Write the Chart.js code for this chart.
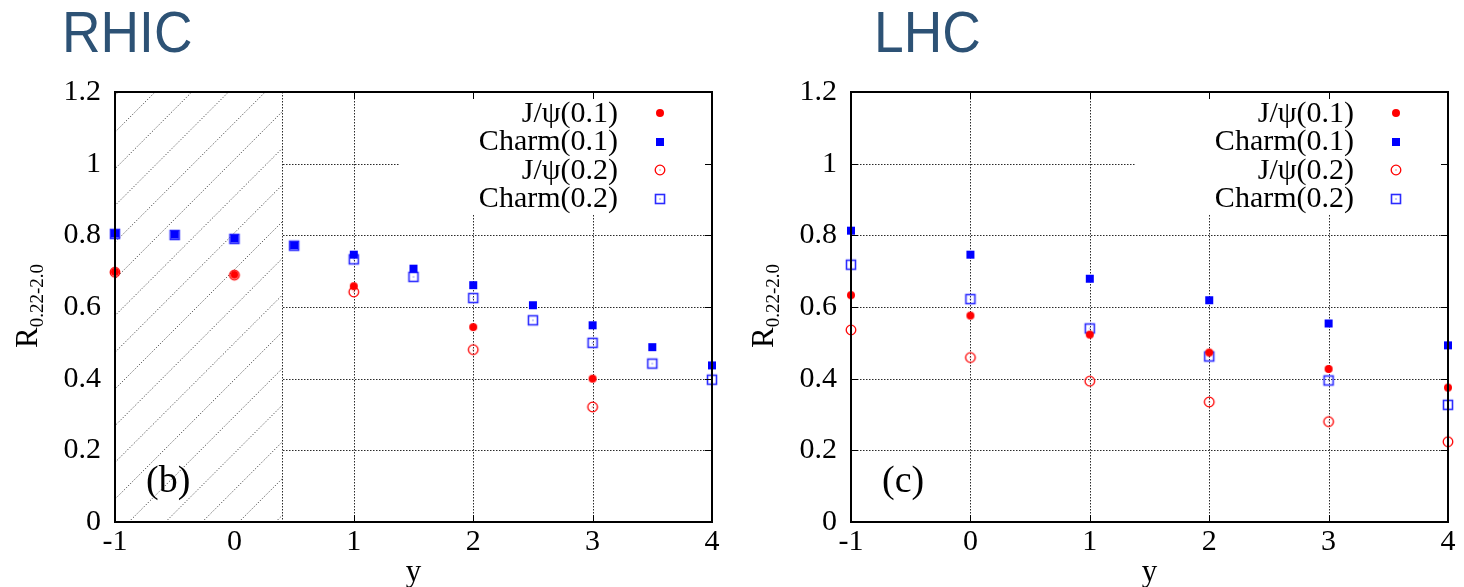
<!DOCTYPE html>
<html>
<head>
<meta charset="utf-8">
<title>R(0.22-2.0) vs rapidity: RHIC and LHC</title>
<script src="https://cdn.jsdelivr.net/npm/chart.js@4.4.1/dist/chart.umd.min.js"></script>
<style>
  html, body { margin: 0; padding: 0; background: #fff; width: 1464px; height: 587px; overflow: hidden; }
  canvas { position: absolute; top: 0; }
  .facility {
    position: absolute; top: 3px; margin: 0;
    font-family: "Liberation Sans", Arial, sans-serif; font-size: 58px; line-height: 58px;
    color: #2d5275; transform: scaleX(0.92); transform-origin: left top; white-space: nowrap;
  }
</style>
</head>
<body>
<div class="facility" style="left:62px">RHIC</div>
<div class="facility" style="left:874px">LHC</div>
<canvas id="rhic" width="732" height="587" style="left:0"></canvas>
<canvas id="lhc" width="732" height="587" style="left:732px"></canvas>

<script>
// ---- axes ----
const X_TICKS = [-1, 0, 1, 2, 3, 4];
const X_TICK_LABELS = ['-1', '0', '1', '2', '3', '4'];
const Y_TICKS = [0, 0.2, 0.4, 0.6, 0.8, 1.0, 1.2];
const Y_TICK_LABELS = ['0', '0.2', '0.4', '0.6', '0.8', '1', '1.2'];
const X_TITLE = 'y';
const Y_TITLE_MAIN = 'R';
const Y_TITLE_SUB = '0.22-2.0';

// ---- series names (legend order) ----
const SERIES_LABELS = ['J/\u03c8(0.1)', 'Charm(0.1)', 'J/\u03c8(0.2)', 'Charm(0.2)'];

// ---- RHIC ----
const RHIC_JPSI_Y = [-1, 0, 1, 2, 3];
const RHIC_JPSI_01 = [0.698, 0.690, 0.658, 0.544, 0.400];
const RHIC_JPSI_02 = [0.697, 0.689, 0.642, 0.481, 0.321];
const RHIC_CHARM_Y = [-1, -0.5, 0, 0.5, 1, 1.5, 2, 2.5, 3, 3.5, 4];
const RHIC_CHARM_01 = [0.805, 0.802, 0.791, 0.772, 0.746, 0.707, 0.661, 0.605, 0.549, 0.488, 0.437];
const RHIC_CHARM_02 = [0.804, 0.801, 0.790, 0.771, 0.733, 0.684, 0.625, 0.563, 0.500, 0.442, 0.397];
const RHIC_EXCLUDED_UPTO = 0.4;   // hatched rapidity range starts at the left edge
const RHIC_PANEL = '(b)';

// ---- LHC ----
const LHC_Y = [-1, 0, 1, 2, 3, 4];
const LHC_JPSI_01 = [0.633, 0.576, 0.523, 0.473, 0.427, 0.375];
const LHC_JPSI_02 = [0.536, 0.459, 0.393, 0.335, 0.280, 0.224];
const LHC_CHARM_01 = [0.813, 0.746, 0.679, 0.619, 0.554, 0.493];
const LHC_CHARM_02 = [0.718, 0.622, 0.540, 0.462, 0.395, 0.327];
const LHC_PANEL = '(c)';

// ---- styling ----
const SERIF = '"Liberation Serif", "Times New Roman", serif';
const RED = '#ff0000';
const BLUE = '#0000ff';
const BLUE_OPEN = '#2b2bff';
const GRID_COLOR = '#2a2a2a';
const HATCH_COLOR = '#4a4a4a';

function makeMarker(kind) {
  const c = document.createElement('canvas');
  c.width = 16; c.height = 16;
  const g = c.getContext('2d');
  const m = 8;
  if (kind === 'disc') {
    g.fillStyle = RED; g.beginPath(); g.arc(m, m, 4.0, 0, Math.PI * 2); g.fill();
  } else if (kind === 'square') {
    g.fillStyle = BLUE; g.fillRect(m - 4, m - 4, 8, 8);
  } else if (kind === 'ring') {
    g.strokeStyle = RED; g.lineWidth = 1.3;
    g.beginPath(); g.arc(m, m, 4.8, 0, Math.PI * 2); g.stroke();
    g.fillStyle = RED; g.fillRect(m - 0.5, m - 0.5, 1, 1);
  } else {
    g.strokeStyle = BLUE_OPEN; g.lineWidth = 1.6;
    g.strokeRect(m - 4.5, m - 4.5, 9, 9);
    g.fillStyle = BLUE_OPEN; g.fillRect(m - 0.5, m - 0.5, 1, 1);
  }
  return c;
}

function line(ctx, x1, y1, x2, y2) {
  ctx.beginPath(); ctx.moveTo(x1, y1); ctx.lineTo(x2, y2); ctx.stroke();
}

// Grid, hatched exclusion band, key backdrop, frame with inward ticks,
// key, panel tag and the subscripted y-axis title.
const decorPlugin = {
  id: 'decor',
  beforeDatasetsDraw(chart, args, opts) {
    const { ctx, chartArea: a, scales: { x, y } } = chart;
    ctx.save();
    ctx.lineWidth = 1;
    ctx.strokeStyle = GRID_COLOR;
    ctx.setLineDash([1.5, 1.5]);
    X_TICKS.slice(1, -1).forEach(v => {
      const px = Math.round(x.getPixelForValue(v)) + 0.5;
      line(ctx, px, a.top, px, a.bottom);
    });
    Y_TICKS.slice(1, -1).forEach(v => {
      const py = Math.round(y.getPixelForValue(v)) + 0.5;
      line(ctx, a.left, py, a.right, py);
    });

    // key backdrop hides the grid behind it
    ctx.fillStyle = '#fff';
    ctx.fillRect(a.right - 312, a.top + 1, 311, 121);

    if (opts.hatchTo != null) {
      const hx = Math.round(x.getPixelForValue(opts.hatchTo)) + 0.5;
      ctx.fillStyle = '#fff';
      ctx.fillRect(a.left, a.top, hx - a.left, a.bottom - a.top);
      ctx.save();
      ctx.beginPath(); ctx.rect(a.left, a.top, hx - a.left, a.bottom - a.top); ctx.clip();
      ctx.strokeStyle = HATCH_COLOR;
      ctx.setLineDash([1.2, 1.8]);
      const step = 36.7;
      const c0 = a.left + a.bottom + 13.8;
      let c = c0;
      while (c > a.left + a.top) c -= step;
      for (; c < hx + a.bottom + step; c += step) {
        line(ctx, c - a.bottom, a.bottom, c - a.top, a.top);
      }
      ctx.restore();
      ctx.strokeStyle = GRID_COLOR;
      ctx.setLineDash([1.5, 1.5]);
      line(ctx, hx, a.top, hx, a.bottom);
    }
    ctx.restore();
  },
  afterDatasetsDraw(chart, args, opts) {
    const { ctx, chartArea: a, scales: { x, y } } = chart;
    ctx.save();
    // inward ticks
    ctx.strokeStyle = '#000'; ctx.lineWidth = 1; ctx.setLineDash([]);
    const tl = 7;
    X_TICKS.slice(1, -1).forEach(v => {
      if (opts.hatchTo != null && v < opts.hatchTo) return;
      const px = Math.round(x.getPixelForValue(v)) + 0.5;
      line(ctx, px, a.top, px, a.top + tl);
      line(ctx, px, a.bottom, px, a.bottom - tl);
    });
    Y_TICKS.slice(1, -1).forEach(v => {
      const py = Math.round(y.getPixelForValue(v)) + 0.5;
      if (opts.hatchTo == null) line(ctx, a.left, py, a.left + tl, py);
      line(ctx, a.right, py, a.right - tl, py);
    });
    // frame
    ctx.lineWidth = 2;
    ctx.strokeRect(a.left, a.top, a.right - a.left, a.bottom - a.top);

    // key: text right-aligned, symbol on its right
    ctx.fillStyle = '#000';
    ctx.font = '30px ' + SERIF;
    ctx.textAlign = 'right';
    ctx.textBaseline = 'middle';
    chart.data.datasets.forEach((ds, i) => {
      const ry = a.top + 21 + i * 28.5;
      ctx.fillText(ds.label, a.right - 94, ry + 1);
      const img = ds.pointStyle;
      ctx.drawImage(img, Math.round(a.right - 52 - img.width / 2), Math.round(ry - img.height / 2));
    });

    // panel tag
    ctx.textAlign = 'left';
    ctx.textBaseline = 'alphabetic';
    ctx.font = '38px ' + SERIF;
    ctx.fillText(opts.panel, a.left + 31, a.bottom - 30);

    // y-axis title with subscript, rotated
    ctx.translate(a.left - 78, (a.top + a.bottom) / 2 - 1);
    ctx.rotate(-Math.PI / 2);
    ctx.font = '31px ' + SERIF;
    const wMain = ctx.measureText(Y_TITLE_MAIN).width;
    ctx.font = '19px ' + SERIF;
    const wSub = ctx.measureText(Y_TITLE_SUB).width;
    const x0 = -(wMain + wSub) / 2;
    ctx.font = '31px ' + SERIF;
    ctx.fillText(Y_TITLE_MAIN, x0, 0);
    ctx.font = '19px ' + SERIF;
    ctx.fillText(Y_TITLE_SUB, x0 + wMain, 6);
    ctx.restore();
  }
};

const MARKERS = [makeMarker('disc'), makeMarker('square'), makeMarker('ring'), makeMarker('box')];

function pairs(xs, ys) { return xs.map((v, i) => ({ x: v, y: ys[i] })); }

function buildChart(id, series, layout, decor) {
  const datasets = series.map((s, i) => ({
    label: SERIES_LABELS[i],
    data: pairs(s[0], s[1]),
    pointStyle: MARKERS[i],
    pointRadius: 5,
    pointHoverRadius: 5,
    showLine: false,
    clip: false
  }));
  const tickFont = { family: SERIF, size: 30 };
  return new Chart(document.getElementById(id), {
    type: 'scatter',
    data: { datasets },
    options: {
      responsive: false,
      devicePixelRatio: 1,
      animation: false,
      events: [],
      layout: { padding: { top: 92, right: layout.padRight, left: 0, bottom: 0 } },
      plugins: { legend: { display: false }, tooltip: { enabled: false }, decor },
      scales: {
        x: {
          type: 'linear', min: -1, max: 4,
          afterBuildTicks: s => { s.ticks = X_TICKS.map(v => ({ value: v })); },
          afterFit: s => { s.height = 65; },
          grid: { display: false, drawTicks: false },
          border: { display: false },
          ticks: { font: tickFont, color: '#000', padding: 2, autoSkip: false, maxRotation: 0,
                   callback: (v, i) => X_TICK_LABELS[i] },
          title: { display: true, text: X_TITLE, color: '#000',
                   font: { family: SERIF, size: 31 }, padding: { top: 0, bottom: -4 } }
        },
        y: {
          type: 'linear', min: 0, max: 1.2,
          afterBuildTicks: s => { s.ticks = Y_TICKS.map(v => ({ value: v })); },
          afterFit: s => { s.width = layout.yWidth; },
          grid: { display: false, drawTicks: false },
          border: { display: false },
          ticks: { font: tickFont, color: '#000', padding: 14, autoSkip: false,
                   callback: (v, i) => Y_TICK_LABELS[i] }
        }
      }
    },
    plugins: [decorPlugin]
  });
}

function draw() {
  buildChart('rhic', [
    [RHIC_JPSI_Y, RHIC_JPSI_01],
    [RHIC_CHARM_Y, RHIC_CHARM_01],
    [RHIC_JPSI_Y, RHIC_JPSI_02],
    [RHIC_CHARM_Y, RHIC_CHARM_02]
  ], { yWidth: 115, padRight: 20 }, { hatchTo: RHIC_EXCLUDED_UPTO, panel: RHIC_PANEL });

  buildChart('lhc', [
    [LHC_Y, LHC_JPSI_01],
    [LHC_Y, LHC_CHARM_01],
    [LHC_Y, LHC_JPSI_02],
    [LHC_Y, LHC_CHARM_02]
  ], { yWidth: 119, padRight: 16 }, { hatchTo: null, panel: LHC_PANEL });
}

Promise.all([
  document.fonts.load('28px "Liberation Serif"'),
  document.fonts.load('58px "Liberation Sans"')
]).then(draw, draw);
</script>
</body>
</html>
